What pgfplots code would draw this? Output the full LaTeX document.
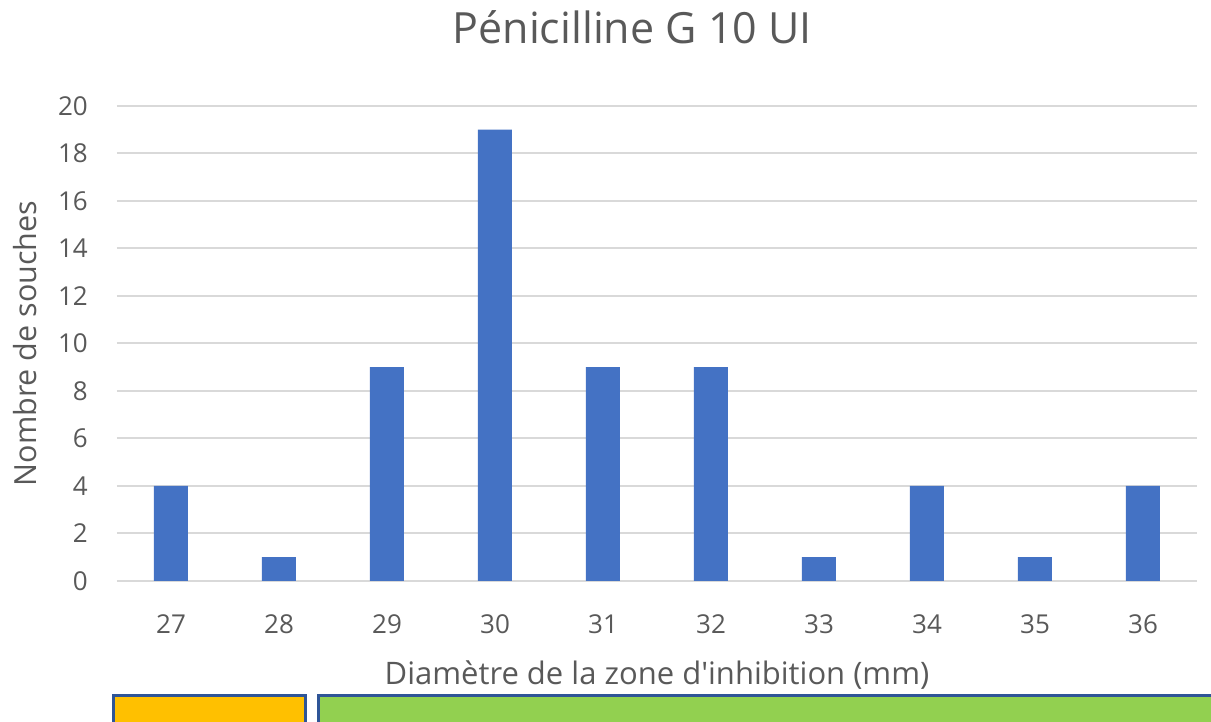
\documentclass[border=0pt]{standalone}
\usepackage{pgfplots}
\pgfplotsset{compat=1.18}
\usepackage{fontspec}
\setmainfont{Open Sans}
\definecolor{barblue}{HTML}{4472C4}
\definecolor{txt}{HTML}{595959}
\definecolor{gridc}{HTML}{D9D9D9}
\definecolor{boxorange}{HTML}{FFC000}
\definecolor{boxgreen}{HTML}{92D050}
\definecolor{boxborder}{HTML}{2F5597}
\begin{document}
\begin{tikzpicture}[x=1pt,y=1pt]
\useasboundingbox (0,0) rectangle (1211,722);
\clip (0,0) rectangle (1211,722);
\begin{axis}[
  at={(117pt,141pt)}, anchor=south west,
  scale only axis, width=1080pt, height=475pt,
  xmin=26.5, xmax=36.5, ymin=0, ymax=20,
  ytick={0,2,...,20}, xtick={27,...,36},
  ybar, bar width=34pt,
  ymajorgrids, grid style={draw=gridc, line width=2pt},
  axis line style={draw=none},
  major tick length=0pt,
  /pgf/number format/assume math mode=true,
  tick label style={font=\fontsize{26}{30}\selectfont, text=txt, inner sep=0pt},
  yticklabel style={anchor=east, xshift=-29pt},
  xticklabel style={anchor=north, yshift=-33pt},
  xlabel={Diamètre de la zone d\textquotesingle inhibition (mm)},
  xlabel style={at={([yshift=-104pt]axis description cs:0.5,0)}, anchor=base, font=\fontsize{31}{36}\selectfont, text=txt, inner sep=0pt},
  ylabel={Nombre de souches},
  ylabel style={at={([xshift=-92pt]axis description cs:0,0.5)}, anchor=center, font=\fontsize{30.5}{36}\selectfont, text=txt, inner sep=0pt},
  title={Pénicilline G 10 UI},
  title style={at={([yshift=56pt]axis description cs:0.477,1)}, anchor=base, font=\fontsize{43}{50}\selectfont, text=txt, inner sep=0pt},
]
\addplot[fill=barblue, draw=none, bar shift=0pt] coordinates {
  (27,4) (28,1) (29,9) (30,19) (31,9) (32,9) (33,1) (34,4) (35,1) (36,4)
};
\end{axis}
\filldraw[fill=boxorange, draw=boxborder, line width=3pt] (113.5,-10) rectangle (305.5,26.5);
\filldraw[fill=boxgreen, draw=boxborder, line width=3pt] (318.5,-10) rectangle (1230,26.5);
\end{tikzpicture}
\end{document}
